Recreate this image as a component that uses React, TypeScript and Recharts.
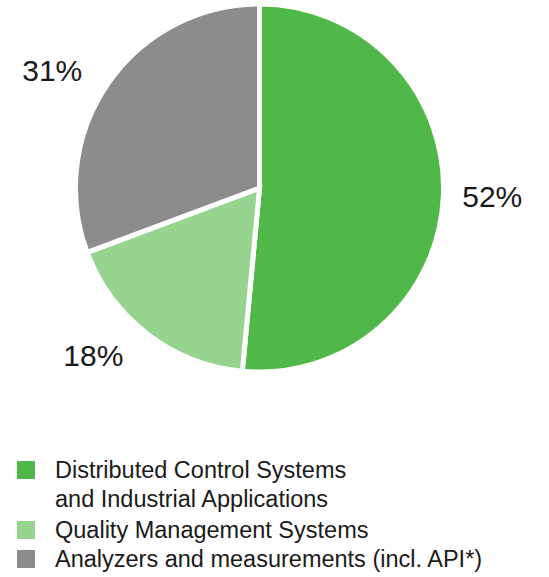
import React from 'react';
import { PieChart, Pie, Cell, Legend } from 'recharts';

const categories = [
  'Distributed Control Systems and Industrial Applications',
  'Quality Management Systems',
  'Analyzers and measurements (incl. API*)',
];
const legendLines = [
  ['Distributed Control Systems', 'and Industrial Applications'],
  ['Quality Management Systems'],
  ['Analyzers and measurements (incl. API*)'],
];
const values = [52, 18, 31];
const labels = ['52%', '18%', '31%'];
const colors = ['#50b848', '#96d490', '#8c8c8c'];

// label placement nudges (style, not data)
const LABEL_NUDGE = [
  [-1, -2],
  [-24, -18],
  [-15, 16],
];

const data = categories.map((name, i) => ({ name, value: values[i], label: labels[i] }));

const FONT = "'Liberation Sans', Arial, sans-serif";
const RAD = Math.PI / 180;
const renderLabel = (props: any) => {
  const { cx, cy, midAngle, outerRadius, index } = props;
  const r = outerRadius + 50;
  const x = cx + r * Math.cos(-midAngle * RAD) + LABEL_NUDGE[index][0];
  const y = cy + r * Math.sin(-midAngle * RAD) + LABEL_NUDGE[index][1];
  return (
    <text x={x} y={y} textAnchor="middle" dominantBaseline="central" fontSize={30} fill="#1a1a1a" fontFamily={FONT}>
      {data[index].label}
    </text>
  );
};

const LegendContent = () => (
  <div style={{ fontFamily: FONT, fontSize: 23.5, color: '#1a1a1a' }}>
    {legendLines.map((lines, i) => (
      <div key={i} style={{ position: 'relative', paddingLeft: 55, lineHeight: '29px', marginTop: i === 1 ? 2 : 0 }}>
        <span style={{ position: 'absolute', left: 17, top: 5, width: 18, height: 18, background: colors[i] }} />
        {lines.map((l, j) => (
          <div key={j} style={{ whiteSpace: 'nowrap' }}>{l}</div>
        ))}
      </div>
    ))}
  </div>
);

export default function App() {
  return (
    <div style={{ position: 'absolute', left: 0, top: 0, width: 549, height: 577, background: '#fff' }}>
      <PieChart width={549} height={577} margin={{ top: 0, right: 0, bottom: 0, left: 0 }}>
        <Pie
          data={data}
          dataKey="value"
          cx={259.5}
          cy={188}
          outerRadius={184}
          startAngle={90}
          endAngle={-270}
          stroke="#ffffff"
          strokeWidth={5}
          label={renderLabel}
          labelLine={false}
          isAnimationActive={false}
        >
          {data.map((d, i) => (
            <Cell key={d.name} fill={colors[i]} />
          ))}
        </Pie>
        <Legend
          content={<LegendContent />}
          wrapperStyle={{ position: 'absolute', left: 0, top: 456, width: 549, bottom: 'auto' }}
        />
      </PieChart>
    </div>
  );
}
